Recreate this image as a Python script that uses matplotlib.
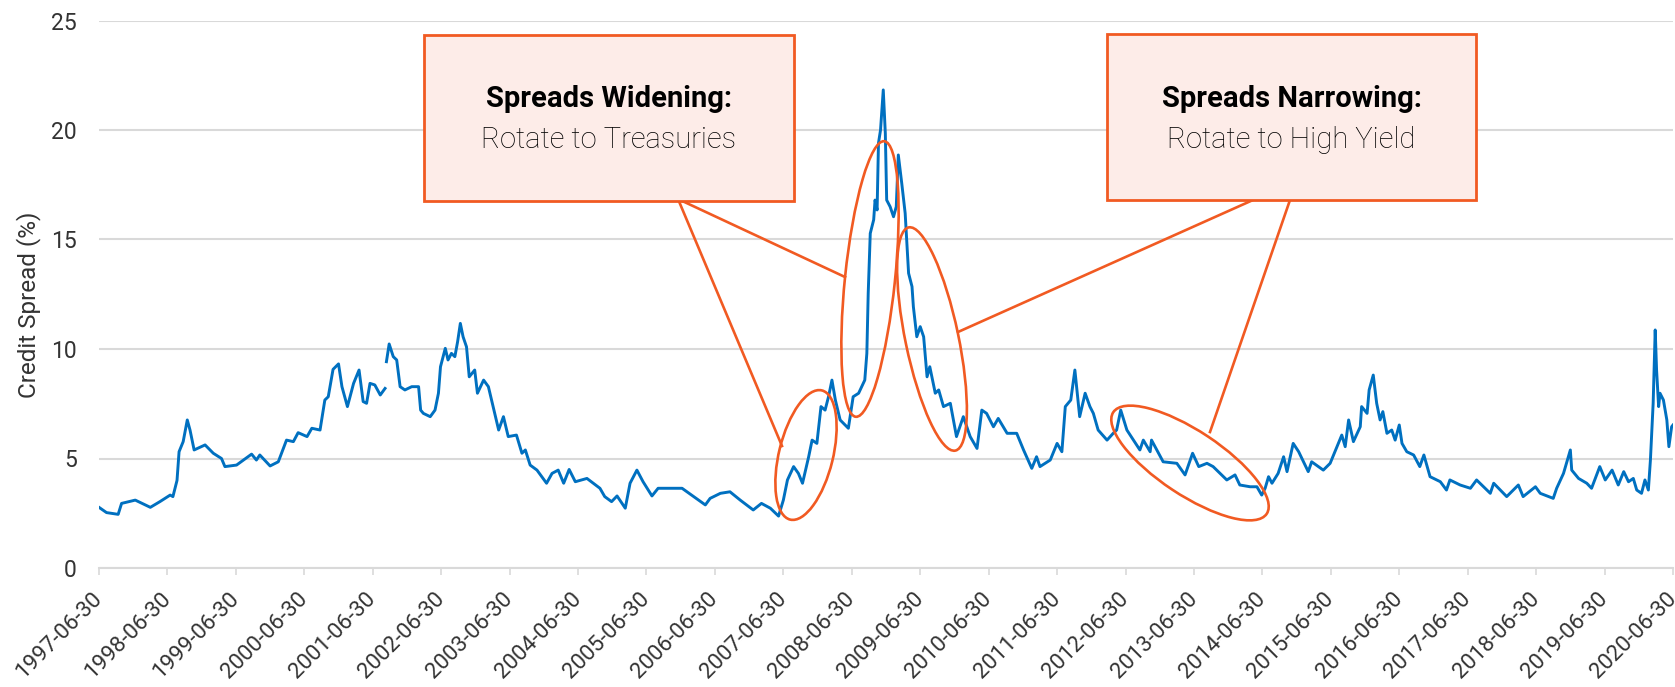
import numpy as np
import matplotlib
matplotlib.use("Agg")
import matplotlib.pyplot as plt
from matplotlib.patches import Ellipse, Rectangle
from matplotlib.lines import Line2D
from matplotlib.transforms import Affine2D

# ---------------- data (decimal year, credit spread %) ----------------
date_years = [
    1997.50, 1997.61, 1997.78, 1997.83, 1998.03, 1998.25, 1998.39, 1998.54, 1998.58, 1998.64,
    1998.67, 1998.73, 1998.79, 1998.83, 1998.89, 1999.05, 1999.17, 1999.29, 1999.34, 1999.51,
    1999.73, 1999.80, 1999.85, 2000.00, 2000.12, 2000.24, 2000.34, 2000.41, 2000.54, 2000.61,
    2000.73, 2000.80, 2000.85, 2000.92, 2001.00, 2001.05, 2001.13, 2001.22, 2001.30, 2001.36,
    2001.41, 2001.46, 2001.53, 2001.61, 2001.68, 2001.69, 2001.70, 2001.74, 2001.80, 2001.85,
    2001.90, 2001.97, 2002.07, 2002.17, 2002.20, 2002.24, 2002.34, 2002.41, 2002.46, 2002.49,
    2002.56, 2002.60, 2002.65, 2002.70, 2002.74, 2002.78, 2002.82, 2002.87, 2002.91, 2002.99,
    2003.03, 2003.12, 2003.19, 2003.34, 2003.41, 2003.48, 2003.60, 2003.68, 2003.73, 2003.80,
    2003.90, 2004.04, 2004.12, 2004.21, 2004.29, 2004.37, 2004.46, 2004.63, 2004.82, 2004.89,
    2004.99, 2005.07, 2005.19, 2005.26, 2005.36, 2005.45, 2005.58, 2005.67, 2005.89, 2006.02,
    2006.19, 2006.36, 2006.43, 2006.58, 2006.72, 2006.87, 2007.06, 2007.18, 2007.31, 2007.43,
    2007.50, 2007.56, 2007.65, 2007.72, 2007.78, 2007.87, 2007.92, 2007.99, 2008.05, 2008.11,
    2008.16, 2008.21, 2008.26, 2008.33, 2008.45, 2008.52, 2008.60, 2008.69, 2008.72, 2008.74,
    2008.77, 2008.82, 2008.84, 2008.87, 2008.89, 2008.92, 2008.96, 2008.99, 2009.01, 2009.06,
    2009.11, 2009.15, 2009.18, 2009.23, 2009.28, 2009.33, 2009.38, 2009.40, 2009.45, 2009.50,
    2009.55, 2009.60, 2009.64, 2009.72, 2009.77, 2009.84, 2009.94, 2010.03, 2010.13, 2010.23,
    2010.33, 2010.40, 2010.47, 2010.57, 2010.64, 2010.77, 2010.91, 2011.01, 2011.13, 2011.20,
    2011.25, 2011.40, 2011.50, 2011.57, 2011.62, 2011.70, 2011.76, 2011.79, 2011.83, 2011.91,
    2011.98, 2012.03, 2012.10, 2012.23, 2012.32, 2012.37, 2012.43, 2012.52, 2012.71, 2012.76,
    2012.86, 2012.88, 2013.05, 2013.25, 2013.37, 2013.48, 2013.57, 2013.69, 2013.78, 2013.98,
    2014.10, 2014.17, 2014.32, 2014.42, 2014.49, 2014.54, 2014.59, 2014.64, 2014.73, 2014.81,
    2014.86, 2014.95, 2015.03, 2015.10, 2015.17, 2015.22, 2015.39, 2015.49, 2015.59, 2015.66,
    2015.71, 2015.76, 2015.83, 2015.93, 2015.95, 2016.03, 2016.06, 2016.12, 2016.17, 2016.22,
    2016.26, 2016.32, 2016.39, 2016.44, 2016.50, 2016.54, 2016.61, 2016.71, 2016.80, 2016.86,
    2016.95, 2017.10, 2017.19, 2017.24, 2017.39, 2017.54, 2017.63, 2017.83, 2017.88, 2018.07,
    2018.24, 2018.31, 2018.49, 2018.56, 2018.75, 2018.80, 2018.90, 2019.00, 2019.02, 2019.12,
    2019.24, 2019.31, 2019.43, 2019.51, 2019.61, 2019.70, 2019.78, 2019.85, 2019.92, 2019.97,
    2020.04, 2020.09, 2020.14, 2020.17, 2020.21, 2020.24, 2020.26, 2020.29, 2020.31, 2020.36,
    2020.41, 2020.44, 2020.48, 2020.50,
]
spread_pct = [
    2.77, 2.53, 2.45, 2.95, 3.10, 2.77, 3.03, 3.33, 3.26, 4.00,
    5.31, 5.77, 6.76, 6.30, 5.39, 5.62, 5.24, 5.00, 4.63, 4.70,
    5.20, 4.93, 5.16, 4.66, 4.85, 5.84, 5.77, 6.18, 6.00, 6.38,
    6.30, 7.67, 7.82, 9.07, 9.32, 8.28, 7.37, 8.43, 9.04, 7.60,
    7.52, 8.43, 8.36, 7.90, 8.20, np.nan, 9.42, 10.23, 9.65, 9.50,
    8.28, 8.13, 8.28, 8.28, 7.21, 7.06, 6.91, 7.21, 7.98, 9.19,
    10.03, 9.50, 9.80, 9.65, 10.33, 11.17, 10.56, 10.10, 8.73, 9.04,
    7.98, 8.58, 8.28, 6.30, 6.91, 6.00, 6.07, 5.24, 5.39, 4.70,
    4.47, 3.87, 4.32, 4.47, 3.87, 4.50, 3.94, 4.09, 3.64, 3.26,
    3.03, 3.29, 2.73, 3.87, 4.47, 3.94, 3.29, 3.64, 3.64, 3.64,
    3.26, 2.88, 3.18, 3.41, 3.48, 3.10, 2.65, 2.95, 2.73, 2.37,
    3.10, 4.02, 4.63, 4.32, 3.87, 5.08, 5.84, 5.69, 7.37, 7.21,
    7.82, 8.58, 7.67, 6.76, 6.38, 7.82, 7.98, 8.58, 9.80, 12.54,
    15.28, 15.90, 16.80, 16.35, 19.40, 20.00, 21.83, 19.85, 16.80, 16.50,
    16.04, 16.50, 18.86, 17.57, 16.20, 13.46, 12.85, 11.93, 10.56, 11.02,
    10.56, 8.73, 9.19, 7.98, 8.13, 7.37, 7.52, 6.00, 6.91, 6.00,
    5.46, 7.21, 7.06, 6.45, 6.83, 6.15, 6.15, 5.39, 4.55, 5.08,
    4.63, 4.93, 5.69, 5.31, 7.37, 7.67, 9.04, 8.13, 6.91, 7.98,
    7.37, 7.06, 6.30, 5.84, 6.15, 6.30, 7.21, 6.30, 5.39, 5.84,
    5.31, 5.84, 4.85, 4.78, 4.25, 5.24, 4.63, 4.78, 4.63, 4.02,
    4.25, 3.79, 3.71, 3.71, 3.33, 3.64, 4.17, 3.87, 4.32, 5.08,
    4.40, 5.69, 5.31, 4.85, 4.40, 4.85, 4.47, 4.78, 5.54, 6.07,
    5.54, 6.76, 5.77, 6.45, 7.37, 7.06, 8.13, 8.81, 7.52, 6.76,
    7.14, 6.15, 6.30, 5.84, 6.53, 5.69, 5.31, 5.16, 4.63, 5.16,
    4.17, 3.94, 3.56, 4.02, 3.79, 3.64, 4.02, 3.41, 3.87, 3.26,
    3.79, 3.26, 3.71, 3.41, 3.18, 3.64, 4.32, 5.39, 4.47, 4.09,
    3.87, 3.64, 4.63, 4.02, 4.47, 3.79, 4.40, 3.94, 4.09, 3.56,
    3.41, 4.02, 3.56, 4.93, 7.52, 10.87, 9.04, 7.37, 7.98, 7.67,
    6.76, 5.54, 6.45, 6.53,
]
tick_years = [1997.5 + i for i in range(24)]
tick_labels = [
    "1997-06-30", "1998-06-30", "1999-06-30", "2000-06-30", "2001-06-30", "2002-06-30",
    "2003-06-30", "2004-06-30", "2005-06-30", "2006-06-30", "2007-06-30", "2008-06-30",
    "2009-06-30", "2010-06-30", "2011-06-30", "2012-06-30", "2013-06-30", "2014-06-30",
    "2015-06-30", "2016-06-30", "2017-06-30", "2018-06-30", "2019-06-30", "2020-06-30",
]
y_ticks = [0, 5, 10, 15, 20, 25]
box_titles = ["Spreads Widening:", "Spreads Narrowing:"]
box_subtitles = ["Rotate to Treasuries", "Rotate to High Yield"]

# ---------------- style ----------------
plt.rcParams["font.family"] = ["Roboto", "DejaVu Sans"]
W, H = 1675, 687
BLUE = "#0070C0"
ORANGE = "#F15A22"
PINK = "#FDECE8"
GRID = "#D9D9D9"
TXT = "#333333"

fig = plt.figure(figsize=(W / 100, H / 100), dpi=100)
ax = fig.add_axes([99 / W, 1 - 568 / H, (1673 - 99) / W, (568 - 20.5) / H])

ax.plot(date_years, spread_pct, color=BLUE, lw=2.1, solid_joinstyle="round", zorder=3)

ax.set_xlim(1997.5, 2020.5)
ax.set_ylim(0, 25)
ax.set_yticks(y_ticks)
ax.set_yticklabels([str(v) for v in y_ticks])
ax.set_xticks(tick_years)
ax.set_xticklabels(tick_labels, rotation=45, ha="right", va="center", rotation_mode="anchor")

ax.grid(axis="y", color=GRID, lw=1.5, zorder=0)
for s in ["top", "right", "left"]:
    ax.spines[s].set_visible(False)
ax.spines["bottom"].set_color(GRID)
ax.spines["bottom"].set_linewidth(1.5)
ax.tick_params(axis="y", length=0, pad=16, labelsize=16.5, labelcolor=TXT)
ax.tick_params(axis="x", length=5, width=1.2, color=GRID, pad=15, labelsize=16, labelcolor=TXT)
ax.set_ylabel("Credit Spread (%)", fontsize=17.5, color=TXT, va="center")
ax.yaxis.set_label_coords(-0.045, 0.48)
ax.set_axisbelow(True)

# ---------------- annotations (figure pixel coordinates, y down) ----------------
T = Affine2D().scale(1 / W, -1 / H).translate(0, 1) + fig.transFigure

connectors = [
    [(678, 199), (782, 446)],
    [(678, 199), (845, 277)],
    [(1253, 200), (958, 332)],
    [(1290, 200), (1210, 432)],
]
for (x0, y0), (x1, y1) in connectors:
    fig.add_artist(Line2D([x0, x1], [y0, y1], transform=T, color=ORANGE, lw=1.9, zorder=5))

ellipses = [
    ((806, 455), 133, 54, -76.2),
    ((870, 279), 277, 50, -84.1),
    ((932, 339), 228, 53, -101.8),
    ((1190, 463), 184, 64, 33.5),
]
for (cx, cy), w, h, ang in ellipses:
    fig.add_artist(Ellipse((cx, cy), w, h, angle=ang, transform=T, fill=False,
                           edgecolor=ORANGE, lw=1.9, zorder=5))

boxes = [(424, 35, 370, 166), (1107, 34, 369, 166)]
for (bx, by, bw, bh), title, sub in zip(boxes, box_titles, box_subtitles):
    fig.add_artist(Rectangle((bx, by), bw, bh, transform=T, facecolor=PINK,
                             edgecolor=ORANGE, lw=2.0, zorder=6))
    cx = bx + bw / 2
    fig.text(cx / W, 1 - 99 / H, title, ha="center", va="center", fontsize=21,
             fontweight="bold", color="#000000", zorder=7)
    fig.text(cx / W, 1 - 140 / H, sub, ha="center", va="center", fontsize=21,
             fontweight="light", color="#000000", zorder=7)

fig.savefig("out.png", dpi=100)
